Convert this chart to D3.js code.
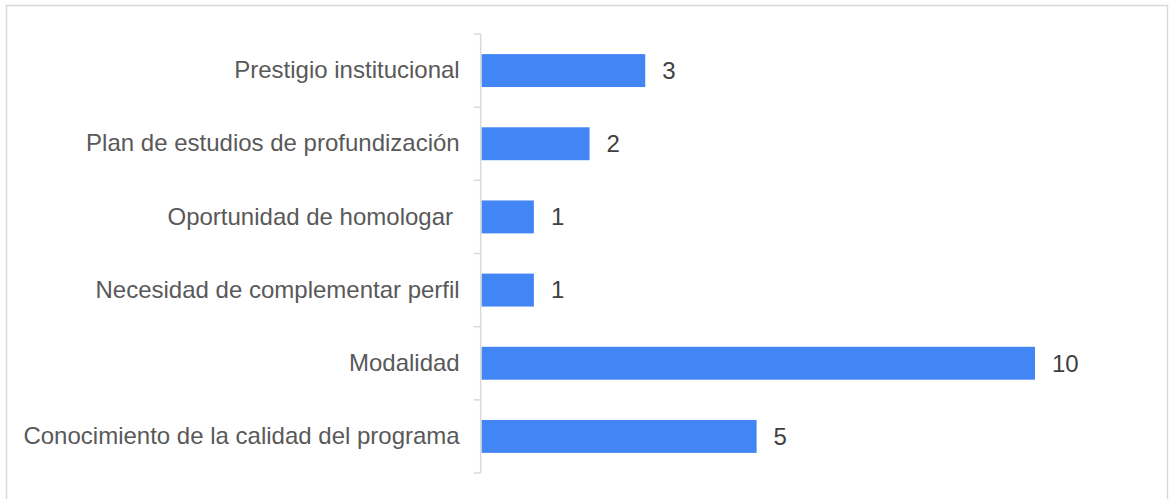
<!doctype html>
<html>
<head>
    <meta charset="UTF-8">
    <title>Motivos</title>
    <script src="https://d3js.org/d3.v7.min.js"></script>
    <style>
        body { margin: 0; background: #fff; }
        text { font-family: "Liberation Sans", Arial, sans-serif; }
    </style>
</head>
<body>
    <script>
        var categorias = [
            "Prestigio institucional",
            "Plan de estudios de profundización",
            "Oportunidad de homologar ",
            "Necesidad de complementar perfil",
            "Modalidad",
            "Conocimiento de la calidad del programa"
        ];
        var valores = [3, 2, 1, 1, 10, 5];

        var w = 1169;
        var h = 499;
        var ejeX = 481.7, ejeTop = 34, ejeBottom = 473;

        var svg = d3.select("body").append("svg")
            .attr("width", w)
            .attr("height", h);

        // marco del gráfico
        svg.append("rect")
            .attr("x", 6.5).attr("y", 5.5)
            .attr("width", 1161).attr("height", 520)
            .attr("fill", "none")
            .attr("stroke", "#d9d9d9")
            .attr("stroke-width", 1.5);

        var x = d3.scaleLinear().domain([0, 10]).range([478.2, 1035]);
        var y = d3.scaleBand().domain(categorias).range([ejeTop, ejeBottom]).paddingInner(0.55).paddingOuter(0.275);

        // eje de categorías
        var yAxis = d3.axisLeft(y).tickSize(0).tickPadding(21);
        var gy = svg.append("g")
            .attr("transform", "translate(" + (ejeX - 1) + ",0)")
            .call(yAxis);
        gy.select(".domain").remove();
        gy.selectAll("text")
            .attr("font-size", 24)
            .attr("fill", "#595959")
            .style("white-space", "pre")
            .attr("font-family", "Liberation Sans, Arial, sans-serif");

        // línea del eje y marcas entre categorías
        var step = y.step();
        var bordes = d3.range(categorias.length + 1).map(function (i) { return ejeTop + i * step; });
        svg.append("line")
            .attr("x1", ejeX - 1).attr("x2", ejeX - 1)
            .attr("y1", ejeTop).attr("y2", ejeBottom)
            .attr("stroke", "#d9d9d9").attr("stroke-width", 1.5);
        svg.selectAll(".tick-b").data(bordes).enter().append("line")
            .attr("class", "tick-b")
            .attr("x1", ejeX - 8).attr("x2", ejeX - 1)
            .attr("y1", function (d) { return d; })
            .attr("y2", function (d) { return d; })
            .attr("stroke", "#d9d9d9").attr("stroke-width", 1.5);

        // barras
        svg.selectAll(".bar").data(valores).enter().append("rect")
            .attr("class", "bar")
            .attr("x", ejeX)
            .attr("y", function (d, i) { return y(categorias[i]); })
            .attr("width", function (d) { return x(d) - ejeX; })
            .attr("height", y.bandwidth())
            .attr("fill", "#4285f4");

        // etiquetas de valor
        svg.selectAll(".val").data(valores).enter().append("text")
            .attr("class", "val")
            .attr("x", function (d) { return x(d) + 17; })
            .attr("y", function (d, i) { return y(categorias[i]) + y.bandwidth() / 2; })
            .attr("dy", "0.35em")
            .attr("font-size", 24)
            .attr("fill", "#404040")
            .text(function (d) { return d; });
    </script>
</body>
</html>
